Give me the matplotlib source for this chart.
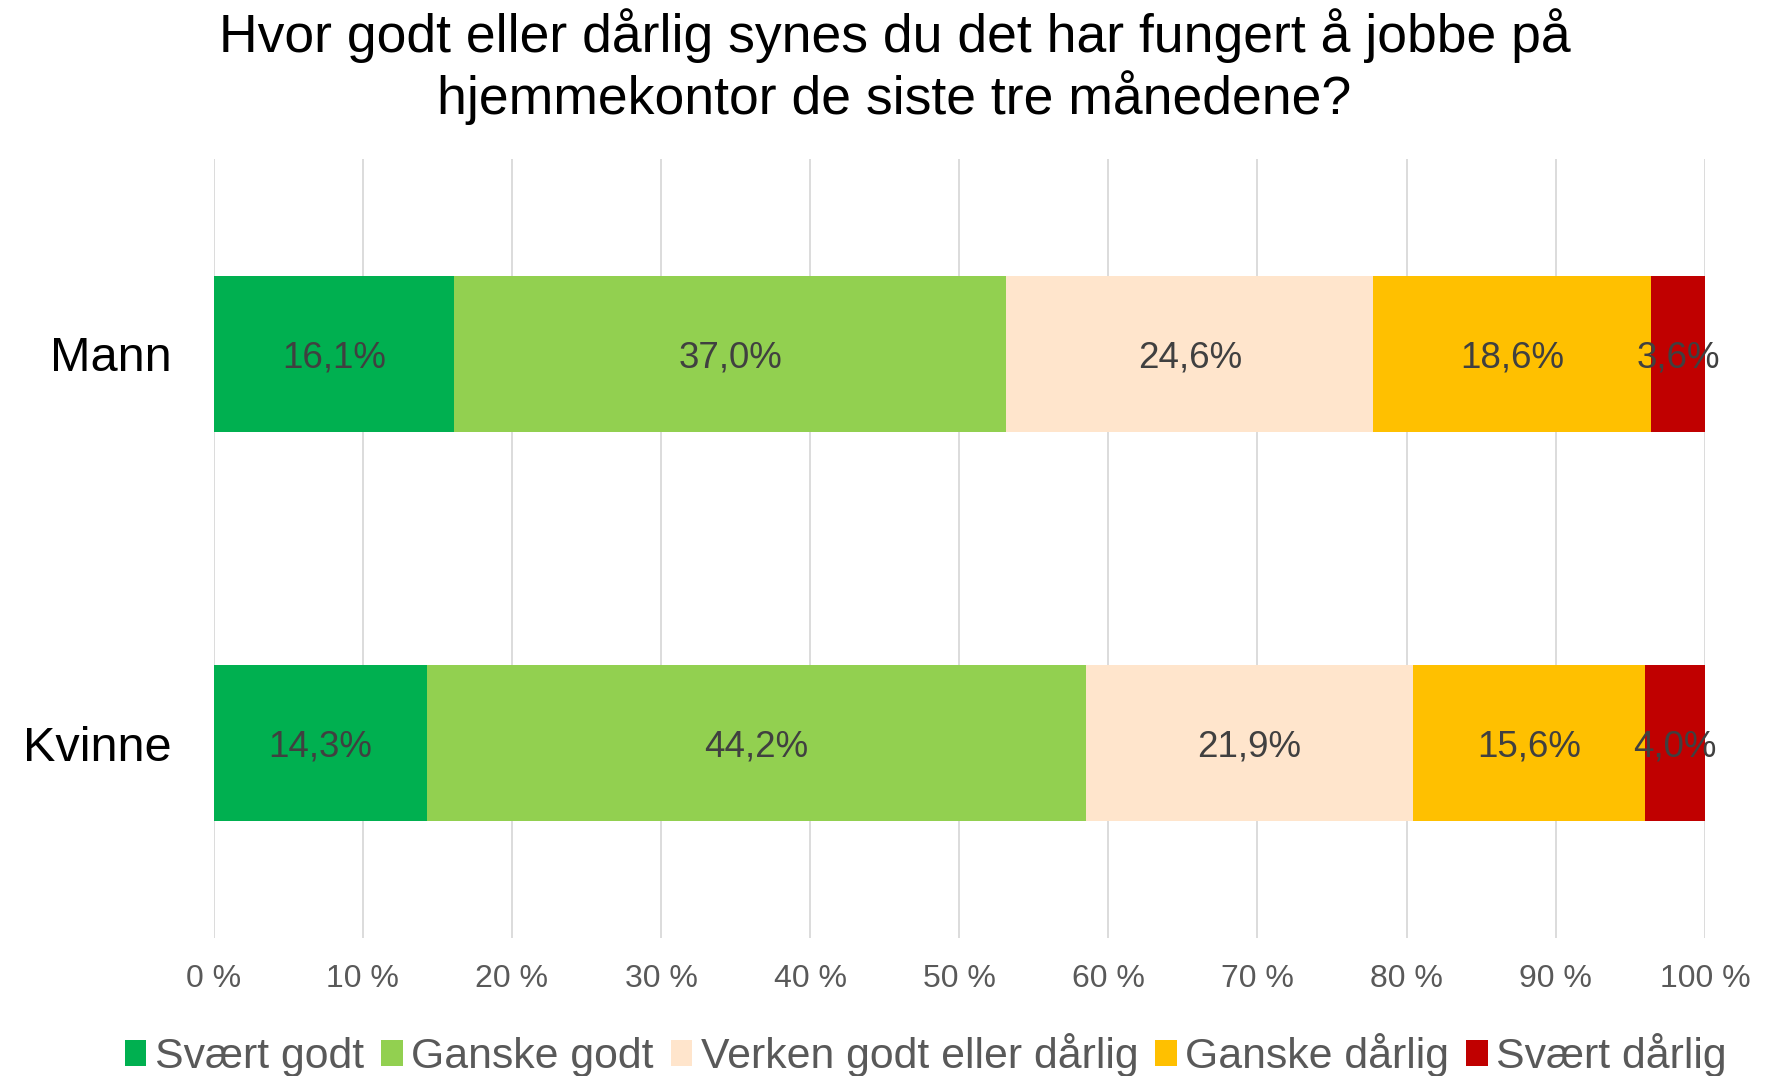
import matplotlib.pyplot as plt
import numpy as np

plt.rcParams['font.family'] = ['Liberation Sans', 'DejaVu Sans']

groups = ["Mann", "Kvinne"]
answers = ["Svært godt", "Ganske godt", "Verken godt eller dårlig", "Ganske dårlig", "Svært dårlig"]
mann = [16.1, 37.0, 24.6, 18.6, 3.6]
kvinne = [14.3, 44.2, 21.9, 15.6, 4.0]
colors = ["#00B050", "#92D050", "#FFE5CC", "#FFC000", "#C00000"]
ticks = [0, 10, 20, 30, 40, 50, 60, 70, 80, 90, 100]
title = "Hvor godt eller dårlig synes du det har fungert å jobbe på\nhjemmekontor de siste tre månedene?"

data = np.array([mann, kvinne])
# 100 % stacked, like the Excel chart
shares = data / data.sum(axis=1, keepdims=True) * 100

fig = plt.figure(figsize=(17.82, 10.76), dpi=100)
ax = fig.add_axes([0.1199, 0.1283, 0.8368, 0.7239])

y = np.arange(len(groups))
left = np.zeros(len(groups))
for i in range(len(answers)):
    vals = shares[:, i]
    ax.barh(y, vals, left=left, height=0.4, color=colors[i], label=answers[i], zorder=2)
    for j in range(len(groups)):
        ax.text(left[j] + vals[j] / 2, y[j], ("%.1f%%" % data[j, i]).replace(".", ","),
                ha="center", va="center_baseline", fontsize=26.5, color="#404040", zorder=3)
    left = left + vals

ax.set_xlim(0, 100)
ax.set_ylim(1.5, -0.5)
ax.set_xticks(ticks)
ax.set_xticklabels(["%d %%" % t for t in ticks], fontsize=23, color="#595959")
ax.set_yticks(y)
ax.set_yticklabels(groups, fontsize=35, color="black")
ax.tick_params(axis="x", length=0, pad=19)
ax.tick_params(axis="y", length=0, pad=30)
ax.grid(axis="x", color="#D9D9D9", linewidth=1.3, zorder=0)
for s in ax.spines.values():
    s.set_visible(False)

fig.text(0.502, 0.938, title, ha="center", va="center", fontsize=38.5, linespacing=1.15)

fig.legend(loc="center", bbox_to_anchor=(926 / 1782, 1 - 1055 / 1076), ncol=5, frameon=False,
           fontsize=30.8, handlelength=0.5, handleheight=0.55, handletextpad=0.2,
           columnspacing=0.4, labelcolor="#595959")

fig.savefig("out.png", dpi=100)
